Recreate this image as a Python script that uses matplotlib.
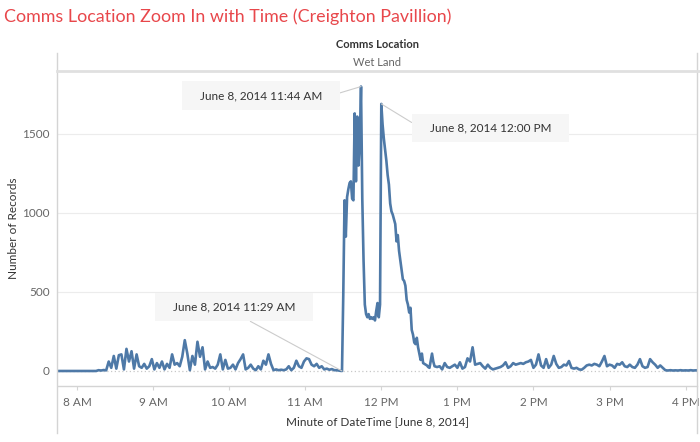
import matplotlib
matplotlib.use("Agg")
import matplotlib.pyplot as plt
import matplotlib.dates as mdates
from matplotlib.lines import Line2D
import pandas as pd

#
# Data (Number of Records per minute)
#
DAY = "2014-06-08"

# quiet morning, one value every 2 minutes from 7:45 to 11:27
morning_start = "07:45"
morning_counts = [
    0, 0, 0, 0, 0, 0, 0, 0, 0, 0, 0, 0, 0, 0, 0, 0,
    5, 3, 6, 4, 60, 20, 95, 15, 100, 105, 10, 140, 60, 125, 15, 105, 30, 20,
    45, 15, 30, 75,
    10, 50, 20, 60, 10, 45, 20, 105, 40, 50, 30, 90, 195, 110, 5, 95, 40, 185,
    90, 150, 10, 60, 20, 25, 15, 40, 105, 10, 70, 15,
    20, 40, 10, 50, 75, 105, 10, 20, 40, 15, 5, 30, 10, 65, 40, 105, 45, 5,
    10, 5, 8, 5, 10, 30, 5, 20, 65, 30, 20, 60,
    80, 75, 40, 30, 45, 20, 30, 10, 15, 8, 12, 5, 5, 2,
]

# the spike, one value every minute from 11:29 to 12:42
peak_start = "11:29"
peak_counts = [
    0, 480, 1080, 850, 1100, 1150, 1190, 1200, 1090, 1080, 1630, 1200, 1610,
    1300, 1450, 1800, 1090, 700, 420, 360, 340, 360, 330, 340, 330, 340, 320,
    380, 430, 340, 420,
    1690, 1560, 1470, 1400, 1330, 1240, 1180, 1060, 1010, 990, 960, 930, 820,
    860, 760, 700, 640, 580, 570, 540, 450, 420, 370, 400, 260, 230, 180, 170,
    210, 150, 110, 70, 110, 50, 45, 40, 35, 25, 20, 65, 110, 60, 30,
]

# afternoon, one value every 2 minutes from 12:44 to 16:08
afternoon_start = "12:44"
afternoon_counts = [
    25, 30, 10, 50, 25, 20, 30, 40,
    20, 55, 15, 25, 80, 60, 150, 40, 45, 50, 30, 15, 40, 20, 10, 15, 20, 25,
    35, 55, 20, 30, 50, 40, 45, 50, 45, 55, 60, 70,
    20, 40, 105, 35, 20, 75, 20, 40, 95, 45, 20, 25, 40, 35, 63, 20, 15, 20,
    10, 8, 20, 35, 40, 35, 45, 40, 30, 60, 95, 30,
    40, 35, 20, 45, 40, 55, 30, 25, 40, 25, 20, 40, 75, 30, 20, 25, 75, 55,
    40, 20, 35, 20, 5, 3, 5, 3, 4, 3, 5, 3,
    4, 3, 5, 3, 4,
]

# labelled points
note_times = ["11:44", "12:00", "11:29"]
note_labels = ["June 8, 2014 11:44 AM", "June 8, 2014 12:00 PM",
               "June 8, 2014 11:29 AM"]

y_ticks = [0, 500, 1000, 1500]

TITLE = "Comms Location Zoom In with Time (Creighton Pavillion)"
LINE_COLOR = "#4e79a7"
GREY_TEXT = "#666666"
DARK_TEXT = "#333333"
RULE = "#d4d4d4"


def stamp(hhmm):
    return pd.Timestamp(DAY + " " + hhmm)


def build_series():
    parts = []
    for start, counts, step in [(morning_start, morning_counts, "2min"),
                                (peak_start, peak_counts, "1min"),
                                (afternoon_start, afternoon_counts, "2min")]:
        idx = pd.date_range(stamp(start), periods=len(counts), freq=step)
        parts.append(pd.Series(counts, index=idx))
    return pd.concat(parts)


def hour_label(x, pos):
    t = mdates.num2date(x)
    h = t.hour % 12
    if h == 0:
        h = 12
    return "{} {}".format(h, "AM" if t.hour < 12 else "PM")


def main():
    plt.rcParams["font.family"] = ["Lato", "DejaVu Sans"]

    series = build_series()

    fig = plt.figure(figsize=(7, 4.42), dpi=100)
    W, H = 700.0, 442.0
    ax = fig.add_axes([58 / W, 1 - 386 / H, 639 / W, 314 / H])

    ax.plot(series.index, series.values, color=LINE_COLOR, lw=1.9,
            solid_joinstyle="round", zorder=3)

    # axis ranges
    ax.set_xlim(stamp("07:45"), stamp("16:09"))
    ax.set_ylim(-95, 1892)

    # grid + dotted zero line
    ax.set_yticks(y_ticks)
    for v in y_ticks[1:]:
        ax.axhline(v, color="#ececec", lw=0.8, zorder=1)
    ax.axhline(0, color="#c8c8c8", lw=0.9, ls=(0, (1, 2)), zorder=1)

    ax.xaxis.set_major_locator(mdates.HourLocator())
    ax.xaxis.set_major_formatter(plt.FuncFormatter(hour_label))

    ax.tick_params(axis="x", colors=GREY_TEXT, labelsize=8.5, length=3,
                   color=RULE, pad=5)
    ax.tick_params(axis="y", colors=GREY_TEXT, labelsize=8.5, length=0, pad=6)

    for side in ["top", "right", "left"]:
        ax.spines[side].set_visible(False)
    ax.spines["bottom"].set_color(RULE)
    ax.spines["bottom"].set_linewidth(1.0)

    # y label placed where the reference has it
    fig.text(14 / W, 1 - 228 / H, "Number of Records", color=DARK_TEXT,
             fontsize=8.5, rotation=90, ha="center", va="center")
    ax.set_xlabel("Minute of DateTime [June 8, 2014]", color=DARK_TEXT,
                  fontsize=8.5, labelpad=6)

    # panel frame lines and header rule
    for x in [57, 697]:
        fig.add_artist(Line2D([x / W, x / W], [1 - 53 / H, 1 - 433 / H],
                              color=RULE, lw=1.0))
    fig.add_artist(Line2D([57 / W, 1.0], [1 - 71 / H, 1 - 71 / H],
                          color="#e0e0e0", lw=2.0))

    # titles
    fig.text(4 / W, 1 - 17 / H, TITLE, color="#e8474b", fontsize=12.9,
             ha="left", va="center")
    fig.text(377 / W, 1 - 45 / H, "Comms Location", color=DARK_TEXT,
             fontsize=8, fontweight="bold", ha="center", va="center")
    fig.text(377 / W, 1 - 62 / H, "Wet Land", color=GREY_TEXT,
             fontsize=8, ha="center", va="center")

    # annotations: offset in pixels from the point and which box side
    # the connector leaves from
    offsets = [(-100, -9), (109, -24), (-108, 64)]
    relpos = [(1, 0.5), (0, 0.5), (0.5, 0)]
    for t, label, off, rp in zip(note_times, note_labels, offsets, relpos):
        when = stamp(t)
        ax.annotate("   " + label + "   ", xy=(when, series[when]),
                    xytext=off, textcoords="offset pixels",
                    ha="center", va="center", fontsize=8.5, color=DARK_TEXT,
                    bbox=dict(boxstyle="square,pad=0.75", fc="#f6f6f6",
                              ec="none"),
                    arrowprops=dict(arrowstyle="-", color="#cccccc", lw=0.8,
                                    relpos=rp, shrinkA=0, shrinkB=0),
                    zorder=4)

    fig.savefig("out.png", dpi=100)


main()
